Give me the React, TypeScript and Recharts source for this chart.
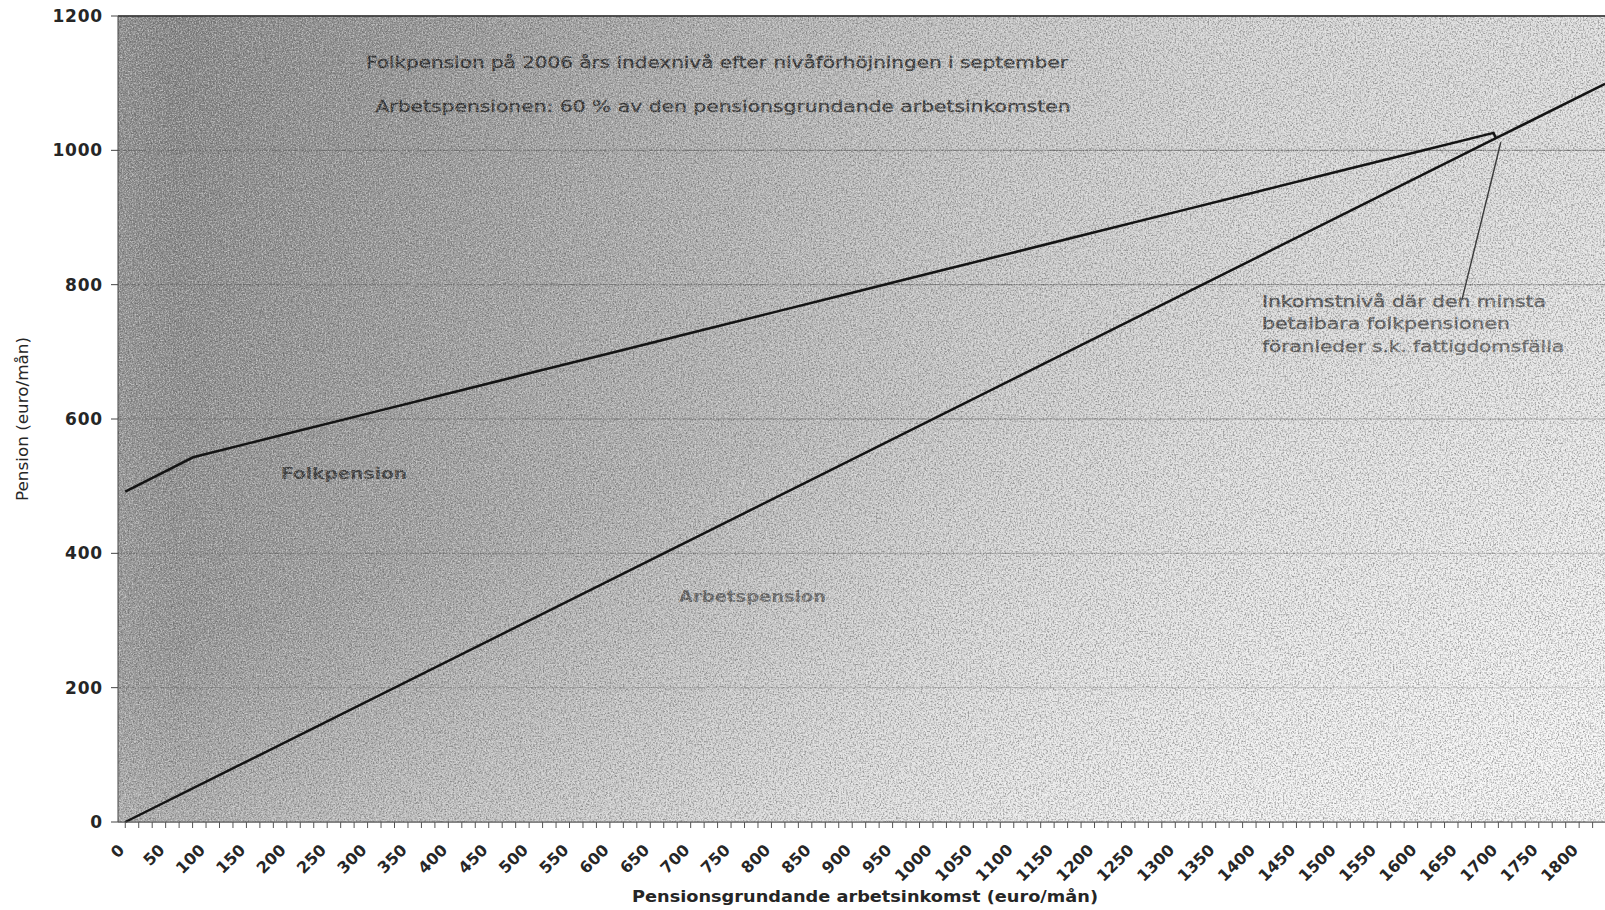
import React from 'react';
import {
  LineChart,
  Line,
  XAxis,
  YAxis,
  CartesianGrid,
  ReferenceArea,
  ReferenceLine,
} from 'recharts';

// X-axelns etiketter (euro/mån)
const incomeTicks = [
  0, 50, 100, 150, 200, 250, 300, 350, 400, 450, 500, 550, 600, 650, 700, 750,
  800, 850, 900, 950, 1000, 1050, 1100, 1150, 1200, 1250, 1300, 1350, 1400,
  1450, 1500, 1550, 1600, 1650, 1700, 1750, 1800,
];
// små streck mellan etiketterna (tre per intervall)
const minorTicks = incomeTicks.flatMap((t) => [t, t + 50 / 3, t + 100 / 3]);

const pensionTicks = [0, 200, 400, 600, 800, 1000, 1200];

// Folkpension + arbetspension (total)
const folkIncome = [0, 84, 150, 200, 300, 400, 500, 600, 700, 800, 900, 1000, 1100, 1200, 1300, 1400, 1500, 1600, 1694, 1697];
const folkPension = [492, 543, 563, 578, 608, 638, 668, 698, 728, 758, 788, 818, 848, 878, 908, 938, 968, 998, 1026, 1018];

// Arbetspension 60 %
const arbIncome = [0, 1697, 1832];
const arbPension = [0, 1018, 1099];

const folkData = folkIncome.map((x, i) => ({ x, y: folkPension[i] }));
const arbData = arbIncome.map((x, i) => ({ x, y: arbPension[i] }));

const X_MIN = -9;
const X_MAX = 1832;

const FONT = '"DejaVu Sans", sans-serif';
const INK = '#262626';

const IncomeTick = (props: any) => {
  const { x, y, payload } = props;
  const v = payload.value;
  const major = Math.abs(v / 50 - Math.round(v / 50)) < 1e-6;
  if (!major) return null;
  const ty = y + 21;
  return (
    <text
      x={x}
      y={ty}
      textAnchor="end"
      transform={`rotate(-45, ${x}, ${ty})`}
      fill={INK}
      fontSize={16}
      fontWeight="bold"
      fontFamily={FONT}
    >
      {Math.round(v)}
    </text>
  );
};

const PensionTick = (props: any) => {
  const { x, y, payload } = props;
  return (
    <text
      x={x}
      y={y}
      dy={6}
      textAnchor="end"
      fill={INK}
      fontSize={17}
      fontWeight="bold"
      fontFamily={FONT}
      letterSpacing={0.8}
    >
      {payload.value}
    </text>
  );
};

const DarkGrain = (p: any) => (
  <rect x={p.x} y={p.y} width={p.width} height={p.height} filter="url(#grainDark)" opacity={0.5} />
);
const LightGrain = (p: any) => (
  <rect x={p.x} y={p.y} width={p.width} height={p.height} filter="url(#grainLight)" opacity={0.45} />
);

export default function App() {
  return (
    <div style={{ position: 'absolute', top: 0, left: 8, width: 1597, height: 910, overflow: 'hidden', background: '#fff' }}>
      <LineChart
        width={1597}
        height={910}
        margin={{ top: 16, right: 0, bottom: 0, left: 0 }}
      >
        <defs>
          <linearGradient id="plotBg" x1="0" y1="0" x2="1" y2="0">
            <stop offset="0" stopColor="#8c8c8c" />
            <stop offset="0.04" stopColor="#838383" />
            <stop offset="0.09" stopColor="#898989" />
            <stop offset="0.2" stopColor="#939393" />
            <stop offset="0.33" stopColor="#a2a2a2" />
            <stop offset="0.47" stopColor="#b4b4b4" />
            <stop offset="0.6" stopColor="#c5c5c5" />
            <stop offset="0.76" stopColor="#d3d3d3" />
            <stop offset="1" stopColor="#dddddd" />
          </linearGradient>
          <linearGradient id="lighten" x1="0.2" y1="0" x2="0.8" y2="1">
            <stop offset="0" stopColor="#ffffff" stopOpacity="0" />
            <stop offset="0.5" stopColor="#ffffff" stopOpacity="0.12" />
            <stop offset="1" stopColor="#ffffff" stopOpacity="0.75" />
          </linearGradient>
          <filter id="grainDark" x="0" y="0" width="1" height="1">
            <feTurbulence type="fractalNoise" baseFrequency="0.6" numOctaves="2" seed="3" stitchTiles="stitch" />
            <feColorMatrix
              type="matrix"
              values="0 0 0 0 0.08  0 0 0 0 0.08  0 0 0 0 0.08  3 0 0 0 -1.3"
            />
          </filter>
          <filter id="grainLight" x="0" y="0" width="1" height="1">
            <feTurbulence type="fractalNoise" baseFrequency="0.7" numOctaves="2" seed="11" stitchTiles="stitch" />
            <feColorMatrix
              type="matrix"
              values="0 0 0 0 1  0 0 0 0 1  0 0 0 0 1  0 3 0 0 -1.3"
            />
          </filter>
        </defs>

        <CartesianGrid
          vertical={false}
          stroke="#6a6a6a"
          strokeWidth={1}
          fill="url(#plotBg)"
          fillOpacity={1}
        />

        <XAxis
          type="number"
          dataKey="x"
          domain={[X_MIN, X_MAX]}
          ticks={minorTicks}
          interval={0}
          allowDataOverflow
          tick={<IncomeTick />}
          tickSize={6}
          tickLine={{ stroke: '#555' }}
          axisLine={{ stroke: '#555' }}
          height={88}
        />

        <YAxis
          type="number"
          domain={[0, 1200]}
          ticks={pensionTicks}
          interval={0}
          width={110}
          tickSize={7}
          tickMargin={8}
          tick={<PensionTick />}
          tickLine={{ stroke: '#444' }}
          axisLine={{ stroke: '#444' }}
        />

        <ReferenceArea x1={X_MIN} x2={X_MAX} y1={0} y2={1200} fill="url(#lighten)" fillOpacity={1} stroke="none" ifOverflow="visible" />
        <ReferenceArea x1={X_MIN} x2={X_MAX} y1={0} y2={1200} shape={<DarkGrain />} ifOverflow="visible" />
        <ReferenceArea x1={X_MIN} x2={X_MAX} y1={0} y2={1200} shape={<LightGrain />} ifOverflow="visible" />
        <ReferenceLine y={1200} stroke="#333" strokeWidth={1.5} />

        <ReferenceLine
          segment={[{ x: 1655, y: 778 }, { x: 1703, y: 1012 }]}
          stroke="#3a3a3a"
          strokeWidth={1.4}
        />

        <Line
          data={arbData}
          dataKey="y"
          type="linear"
          stroke="#141414"
          strokeWidth={2.5}
          dot={false}
          activeDot={false}
          isAnimationActive={false}
        />
        <Line
          data={folkData}
          dataKey="y"
          type="linear"
          stroke="#141414"
          strokeWidth={2.5}
          dot={false}
          activeDot={false}
          isAnimationActive={false}
        />

        <g fontFamily={FONT} fill={INK} stroke={INK} strokeWidth={0.35}>
          <text x={709} y={68} textAnchor="middle" fontSize={16} textLength={702} lengthAdjust="spacingAndGlyphs">
            Folkpension på 2006 års indexnivå efter nivåförhöjningen i september
          </text>
          <text x={715} y={112} textAnchor="middle" fontSize={16} textLength={695} lengthAdjust="spacingAndGlyphs">
            Arbetspensionen: 60 % av den pensionsgrundande arbetsinkomsten
          </text>
          <text x={273} y={479} fontSize={16} fontWeight="bold" strokeWidth={0} textLength={126} lengthAdjust="spacingAndGlyphs">
            Folkpension
          </text>
          <text x={671} y={602} fontSize={16} fontWeight="bold" strokeWidth={0} textLength={147} lengthAdjust="spacingAndGlyphs">
            Arbetspension
          </text>
          <text x={1254} y={307} fontSize={16} textLength={284} lengthAdjust="spacingAndGlyphs">
            Inkomstnivå där den minsta
          </text>
          <text x={1254} y={329} fontSize={16} textLength={248} lengthAdjust="spacingAndGlyphs">
            betalbara folkpensionen
          </text>
          <text x={1254} y={352} fontSize={16} textLength={302} lengthAdjust="spacingAndGlyphs">
            föranleder s.k. fattigdomsfälla
          </text>
          {/* axeltitlar */}
          <text x={857} y={902} textAnchor="middle" fontSize={15} fontWeight="bold" strokeWidth={0} textLength={466} lengthAdjust="spacingAndGlyphs">
            Pensionsgrundande arbetsinkomst (euro/mån)
          </text>
          <text
            x={20}
            y={419}
            textAnchor="middle"
            fontSize={15}
            strokeWidth={0}
            textLength={164}
            lengthAdjust="spacingAndGlyphs"
            transform="rotate(-90, 20, 419)"
          >
            Pension (euro/mån)
          </text>
        </g>
      </LineChart>
    </div>
  );
}
